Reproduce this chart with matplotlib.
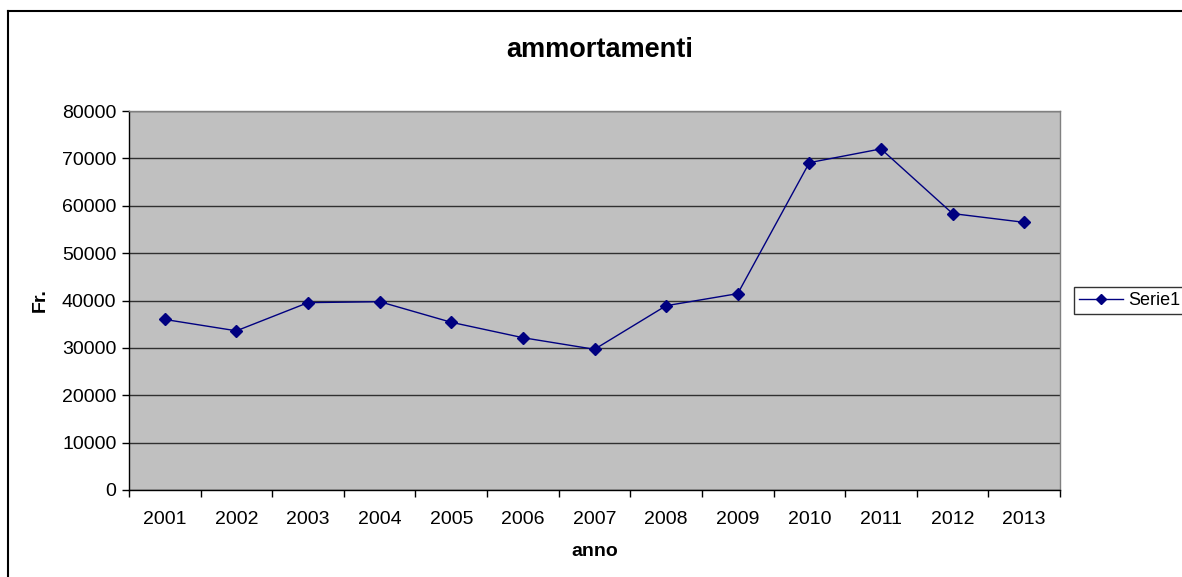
import matplotlib.pyplot as plt
from matplotlib.lines import Line2D

plt.rcParams['font.family'] = ['Liberation Sans', 'DejaVu Sans']

# data
years = ['2001', '2002', '2003', '2004', '2005', '2006', '2007',
         '2008', '2009', '2010', '2011', '2012', '2013']
values = [36000, 33600, 39550, 39750, 35400, 32150, 29700,
          38900, 41450, 69100, 72000, 58350, 56500]

W, H = 1182, 577
fig = plt.figure(figsize=(W / 100, H / 100), dpi=100)
ax = fig.add_axes([129 / W, 1 - 490 / H, (1060 - 129) / W, (490 - 111) / H])

ax.set_facecolor('#C0C0C0')
x = range(len(years))
line, = ax.plot(x, values, color='#000080', linewidth=1.0, marker='D',
                markersize=6.5, label='Serie1')

ax.set_xlim(-0.5, len(years) - 0.5)
ax.set_ylim(0, 80000)
ax.set_yticks(range(0, 80001, 10000))
ax.set_xticks(list(x))
ax.set_xticklabels(years)
ax.set_xticks([i - 0.5 for i in range(len(years) + 1)], minor=True)
ax.tick_params(axis='x', which='major', length=0, pad=15, labelsize=14)
ax.tick_params(axis='x', which='minor', length=5, width=1, direction='out')
ax.tick_params(axis='y', length=5, width=1, direction='out', pad=4, labelsize=14)

ax.grid(axis='y', color='#303030', linewidth=1)
ax.set_axisbelow(True)
for s in ['left', 'bottom']:
    ax.spines[s].set_color('black')
    ax.spines[s].set_linewidth(1)
for s in ['top', 'right']:
    ax.spines[s].set_color('#808080')
    ax.spines[s].set_linewidth(1)

fig.text(600 / W, 1 - 50 / H, 'ammortamenti', fontsize=19.5, fontweight='bold',
         ha='center', va='center')
fig.text(40 / W, 1 - 300 / H, 'Fr.', fontsize=14, fontweight='bold',
         ha='center', va='center', rotation=90)
fig.text(594.5 / W, 1 - 552 / H, 'anno', fontsize=14, fontweight='bold',
         ha='center', va='center')

leg = fig.legend(handles=[line], loc='center left',
                 bbox_to_anchor=(1074 / W, 1 - 300.5 / H), frameon=True,
                 fancybox=False, edgecolor='black', fontsize=13,
                 handlelength=2.4, handletextpad=0.3, markerscale=0.85,
                 borderpad=0.3, borderaxespad=0)
leg.get_frame().set_linewidth(1)

# outer chart border (cropped on right and bottom)
fig.add_artist(Line2D([8 / W, 8 / W], [0, 1 - 11 / H], color='black', linewidth=1.5))
fig.add_artist(Line2D([8 / W, 1], [1 - 11 / H, 1 - 11 / H], color='black', linewidth=1.5))

fig.savefig('out.png', dpi=100)
